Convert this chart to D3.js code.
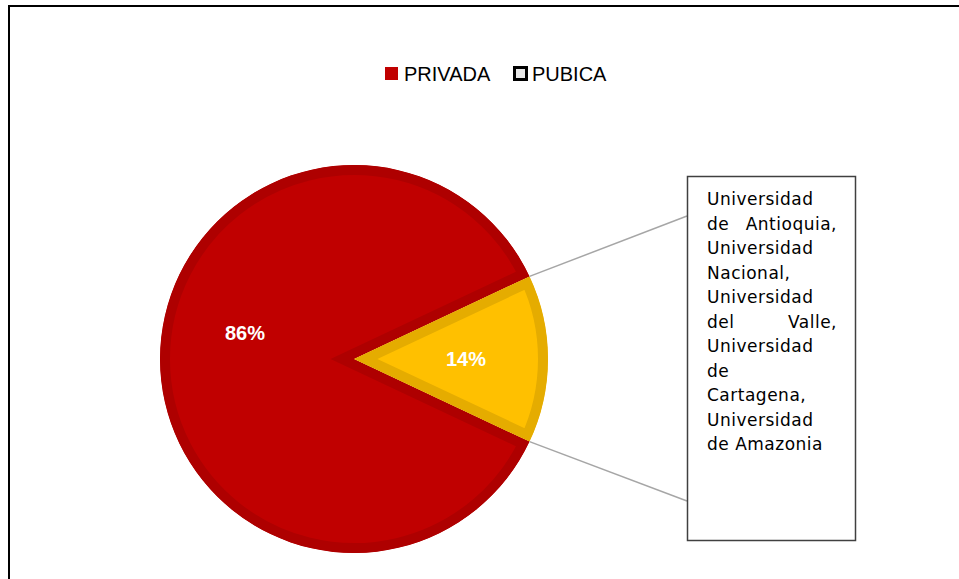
<!DOCTYPE html>
<html>
<head>
<meta charset="utf-8">
<script src="https://cdn.jsdelivr.net/npm/d3@7"></script>
<style>
  html, body { margin: 0; padding: 0; background: #fff; }
  svg { display: block; }
</style>
</head>
<body>
<div id="chart"></div>
<script>
// chart data
const categories = ["PRIVADA", "PUBICA"];
const shares = [86, 14];
const calloutLines = [
  ["Universidad"],
  ["de", "Antioquia,"],
  ["Universidad"],
  ["Nacional,"],
  ["Universidad"],
  ["del", "Valle,"],
  ["Universidad"],
  ["de"],
  ["Cartagena,"],
  ["Universidad"],
  ["de Amazonia"]
];

const width = 959;
const height = 579;
const cx = 354, cy = 359, radius = 194;

const fill = d3.scaleOrdinal().domain(categories).range(["#C00000", "#FFC000"]);
const edge = d3.scaleOrdinal().domain(categories).range(["#AE0000", "#E5AC00"]);

const svg = d3.select("#chart")
  .append("svg")
  .attr("width", width)
  .attr("height", height);

svg.append("rect")
  .attr("width", width)
  .attr("height", height)
  .attr("fill", "#fff");

// outer frame (only top and left are in view)
svg.append("rect")
  .attr("x", 9)
  .attr("y", 6)
  .attr("width", 1200)
  .attr("height", 1200)
  .attr("fill", "none")
  .attr("stroke", "#000")
  .attr("stroke-width", 2);

// legend
const legend = svg.append("g").attr("font-family", "'Liberation Sans', Arial, sans-serif");
const legendX = [385, 513];
categories.forEach((c, i) => {
  const g = legend.append("g").attr("transform", `translate(${legendX[i]},67)`);
  if (i === 0) {
    g.append("rect").attr("width", 13).attr("height", 13).attr("fill", fill(c));
  } else {
    g.append("rect").attr("x", 1.5).attr("y", 0.5).attr("width", 12).attr("height", 12)
      .attr("fill", "#E8E8E8").attr("stroke", "#000").attr("stroke-width", 3);
  }
  g.append("text")
    .attr("x", 19)
    .attr("y", 14)
    .attr("font-size", 20)
    .attr("fill", "#000")
    .text(c);
});

// pie, the small slice centred on 3 o'clock
const startAngle = Math.PI / 2 + (shares[1] / 100) * Math.PI;
const pie = d3.pie().sort(null).value(d => d)
  .startAngle(startAngle)
  .endAngle(startAngle + 2 * Math.PI);
const arc = d3.arc().innerRadius(0).outerRadius(radius);
const slices = pie(shares);

const defs = svg.append("defs");
const pieG = svg.append("g").attr("transform", `translate(${cx},${cy})`);

slices.forEach((s, i) => {
  defs.append("clipPath").attr("id", "clip" + i)
    .append("path").attr("d", arc(s));
  // stroke is clipped so the darker band sits inside each slice
  pieG.append("path")
    .attr("d", arc(s))
    .attr("fill", fill(categories[i]))
    .attr("stroke", edge(categories[i]))
    .attr("stroke-width", 20)
    .attr("clip-path", `url(#clip${i})`);
});

// percentage labels
const labelArc = d3.arc().innerRadius(112).outerRadius(112);
const labelNudge = [0.23, 0];
slices.forEach((s, i) => {
  const mid = (s.startAngle + s.endAngle) / 2 + labelNudge[i];
  const [lx, ly] = labelArc.centroid({ startAngle: mid, endAngle: mid });
  pieG.append("text")
    .attr("x", lx)
    .attr("y", ly)
    .attr("dy", "0.35em")
    .attr("text-anchor", "middle")
    .attr("font-family", "'Liberation Sans', Arial, sans-serif")
    .attr("font-weight", "bold")
    .attr("font-size", 20)
    .attr("fill", "#fff")
    .text(shares[i] + "%");
});

// callout box
const box = { x: 687, y: 176, w: 168, h: 364 };
const pub = slices[1];
const edgePts = [pub.startAngle, pub.endAngle].map(a => [
  cx + radius * Math.sin(a),
  cy - radius * Math.cos(a)
]);
const boxPts = [[box.x, 216], [box.x, 501]];
edgePts.forEach((p, i) => {
  svg.append("line")
    .attr("x1", p[0]).attr("y1", p[1])
    .attr("x2", boxPts[i][0]).attr("y2", boxPts[i][1])
    .attr("stroke", "#A6A6A6")
    .attr("stroke-width", 1.5);
});

svg.append("rect")
  .attr("x", box.x + 0.5)
  .attr("y", box.y + 0.5)
  .attr("width", box.w)
  .attr("height", box.h)
  .attr("fill", "#fff")
  .attr("stroke", "#404040")
  .attr("stroke-width", 1.5);

const textG = svg.append("g")
  .attr("font-family", "'DejaVu Sans', Verdana, sans-serif")
  .attr("font-size", 17)
  .attr("letter-spacing", 0.5)
  .attr("fill", "#000");
const left = 707, right = 837, firstBase = 205, lineH = 24.5;
calloutLines.forEach((words, i) => {
  const y = firstBase + i * lineH;
  if (words.length === 1) {
    textG.append("text").attr("x", left).attr("y", y).text(words[0]);
  } else {
    // justified line: first word left, last word right
    textG.append("text").attr("x", left).attr("y", y).text(words[0]);
    textG.append("text").attr("x", right).attr("y", y)
      .attr("text-anchor", "end").text(words[words.length - 1]);
  }
});
</script>
</body>
</html>
